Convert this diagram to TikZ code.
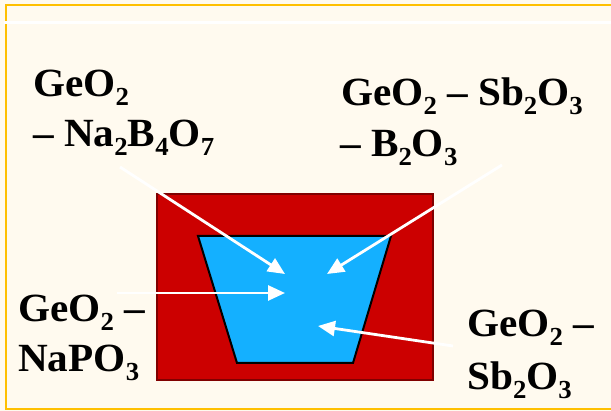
\documentclass[tikz,border=0pt]{standalone}
\usepackage{fontspec}
\setmainfont{Liberation Serif}[FakeStretch=1.03]
\usetikzlibrary{arrows.meta}
\definecolor{cream}{RGB}{255,250,239}
\definecolor{gold}{RGB}{255,192,0}
\definecolor{potred}{RGB}{204,0,0}
\definecolor{potedge}{RGB}{128,0,0}
\definecolor{melt}{RGB}{20,176,255}
\newcommand{\subx}[1]{\raisebox{-8.5pt}{\fontsize{26}{26}\selectfont #1}}
\tikzset{
  lbl/.style={anchor=base west, inner sep=0pt, font=\fontsize{40}{50}\selectfont\bfseries},
  warrow/.style={draw=white, line width=2.8pt, -{Triangle[length=17pt,width=15pt]}},
}
\begin{document}
\begin{tikzpicture}[x=1pt,y=-1pt]
\useasboundingbox (0,0) rectangle (611,411);
\fill[cream] (0,0) rectangle (611,411);
% frame
\draw[gold, line width=2.5pt] (611,5) -- (6,5) -- (6,409) -- (611,409);
\draw[white, line width=3pt] (4,22.5) -- (611,22.5);
% crucible
\draw[potedge, fill=potred, line width=2.5pt] (157,194) rectangle (433,380);
\draw[black, fill=melt, line width=2pt] (198,236) -- (391,236) -- (353,363) -- (237,363) -- cycle;
% labels
\node[lbl] (l1a) at (33,97) {GeO\subx{2}};
\node[lbl] (l1b) at (33,147) {– Na\subx{2}B\subx{4}O\subx{7}};
\node[lbl] (l2a) at (341,106) {GeO\subx{2} – Sb\subx{2}O\subx{3}};
\node[lbl] (l2b) at (340,157) {– B\subx{2}O\subx{3}};
\node[lbl] (l3a) at (18,322) {GeO\subx{2} –};
\node[lbl] (l3b) at (18,372) {NaPO\subx{3}};
\node[lbl] (l4a) at (467,337) {GeO\subx{2} –};
\node[lbl] (l4b) at (467,390) {Sb\subx{2}O\subx{3}};
% arrow ends
\coordinate (s1) at (120,167);
\coordinate (t1) at (285,274);
\coordinate (s2) at (502,165);
\coordinate (t2) at (327,274);
\coordinate (s3) at (117,293);
\coordinate (t3) at (285,293);
\coordinate (s4) at (453,346);
\coordinate (t4) at (318,326);
\draw[warrow] (s1) -- (t1);
\draw[warrow] (s2) -- (t2);
\draw[warrow] (s3) -- (t3);
\draw[warrow] (s4) -- (t4);
\end{tikzpicture}
\end{document}
